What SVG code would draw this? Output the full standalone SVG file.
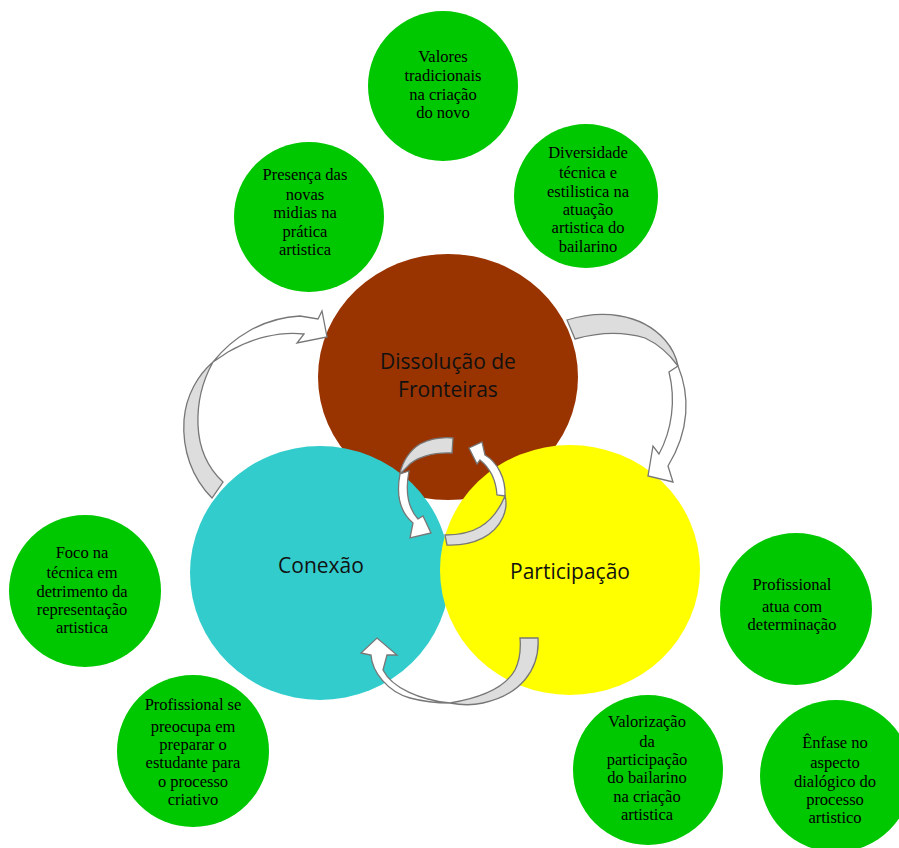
<svg xmlns="http://www.w3.org/2000/svg" width="899" height="848" viewBox="0 0 899 848">
<style>
.g{fill:#00c800}
.t{font-family:"Liberation Serif","Times New Roman",serif;font-size:16.5px;fill:#000;text-anchor:middle}
.m{font-family:"Open Sans","Noto Sans",sans-serif;font-size:21px;fill:#111;text-anchor:middle}
.aw{fill:#fff;stroke:#777;stroke-width:1.3;stroke-linejoin:miter}
.ag{fill:#ddd;stroke:#777;stroke-width:1.3}
</style>
<rect width="899" height="848" fill="#fff"/>
<g id="n-valores"><circle class="g" cx="443" cy="86" r="75"/>
<text class="t"><tspan x="443" y="62">Valores</tspan><tspan x="443" y="81">tradicionais</tspan><tspan x="443" y="100">na criação</tspan><tspan x="443" y="118">do novo</tspan></text></g>
<g id="n-diversidade"><circle class="g" cx="586" cy="196" r="72"/>
<text class="t"><tspan x="588" y="158">Diversidade</tspan><tspan x="588" y="178">técnica e</tspan><tspan x="588" y="197">estilistica na</tspan><tspan x="588" y="215">atuação</tspan><tspan x="588" y="233">artistica do</tspan><tspan x="588" y="252">bailarino</tspan></text></g>
<g id="n-presenca"><circle class="g" cx="309" cy="217" r="75"/>
<text class="t"><tspan x="305" y="180">Presença das</tspan><tspan x="305" y="200">novas</tspan><tspan x="305" y="218">midias  na</tspan><tspan x="305" y="237">prática</tspan><tspan x="305" y="255">artistica</tspan></text></g>
<g id="n-dissolucao"><ellipse cx="448" cy="377" rx="130" ry="123" fill="#993300"/></g>
<g id="n-conexao"><ellipse cx="320" cy="573" rx="130" ry="127" fill="#33cccc"/></g>
<g id="n-participacao"><ellipse cx="570" cy="570" rx="130" ry="125" fill="#ffff00"/></g>
<text class="m" x="448" y="369">Dissolução de</text>
<text class="m" x="448" y="397">Fronteiras</text>
<text class="m" x="321" y="573">Conexão</text>
<text class="m" x="570" y="579">Participação</text>
<g id="n-foco"><circle class="g" cx="85" cy="591" r="76"/>
<text class="t"><tspan x="82" y="558">Foco na</tspan><tspan x="82" y="578">técnica em</tspan><tspan x="82" y="597">detrimento  da</tspan><tspan x="82" y="615">representação</tspan><tspan x="82" y="633">artistica</tspan></text></g>
<g id="n-prof-se"><circle class="g" cx="193" cy="751" r="76"/>
<text class="t"><tspan x="193" y="710">Profissional  se</tspan><tspan x="193" y="732">preocupa em</tspan><tspan x="193" y="750">preparar  o</tspan><tspan x="193" y="768">estudante para</tspan><tspan x="193" y="787">o processo</tspan><tspan x="193" y="805">criativo</tspan></text></g>
<g id="n-prof-atua"><circle class="g" cx="796" cy="609" r="76"/>
<text class="t"><tspan x="792" y="590">Profissional</tspan><tspan x="792" y="612">atua com</tspan><tspan x="792" y="630">determinação</tspan></text></g>
<g id="n-valorizacao"><circle class="g" cx="648" cy="770" r="75"/>
<text class="t"><tspan x="647" y="727">Valorização</tspan><tspan x="647" y="747">da</tspan><tspan x="647" y="765">participação</tspan><tspan x="647" y="783">do bailarino</tspan><tspan x="647" y="802">na criação</tspan><tspan x="647" y="820">artistica</tspan></text></g>
<g id="n-enfase"><circle class="g" cx="836" cy="776" r="76"/>
<text class="t"><tspan x="835" y="748">Ênfase no</tspan><tspan x="835" y="768">aspecto</tspan><tspan x="835" y="787">dialógico  do</tspan><tspan x="835" y="805">processo</tspan><tspan x="835" y="823">artistico</tspan></text></g>
<g id="connectors">
<path class="ag" d="M212,498 C192,478 182,450 184,420 C186,395 198,375 213,362 C203,380 197,400 198,425 C199,450 208,468 223,482 Z"/>
<path class="aw" d="M213,362 C232,338 262,318 300,316 L318,319 L322,311 L327,337 L297,343 L304,334 C280,331 252,338 228,352 Z"/>
<path class="ag" d="M567,320 C600,310 640,312 665,340 C672,348 676,356 678,366 C670,355 660,345 645,338 C625,332 600,332 575,339 Z"/>
<path class="aw" d="M678,366 C690,395 690,430 668,466 L673,482 L648,476 L653,446 L659,454 C672,430 676,400 669,372 Z"/>
<path class="ag" d="M520,638 L538,638 C540,670 520,695 483,703 C470,706 460,705 450,703 C480,698 505,688 515,670 C520,660 521,650 520,638 Z"/>
<path class="aw" d="M450,703 C420,700 392,688 383,670 L387,655 L397,655 L377,638 L361,653 L371,655 C372,672 388,692 410,698 C425,702 440,703 450,703 Z"/>
<path class="ag" d="M453,438 L452,453 C432,452 415,458 408,466 C404,470 402,472 400,474 C402,462 410,450 420,444 C430,439 442,437 453,438 Z"/>
<path class="aw" d="M400,474 C396,495 400,512 413,523 L410,538 L431,533 L423,516 L418,519 C408,508 405,492 409,471 Z"/>
<path class="ag" d="M445,535 L447,545 C475,546 495,535 503,517 C506,510 507,503 505,496 C500,508 492,520 480,527 C470,533 458,535 445,535 Z"/>
<path class="aw" d="M505,496 C506,478 497,462 485,455 L482,442 L469,448 L477,464 L480,460 C490,468 496,480 497,495 Z"/>
</g>
</svg>
